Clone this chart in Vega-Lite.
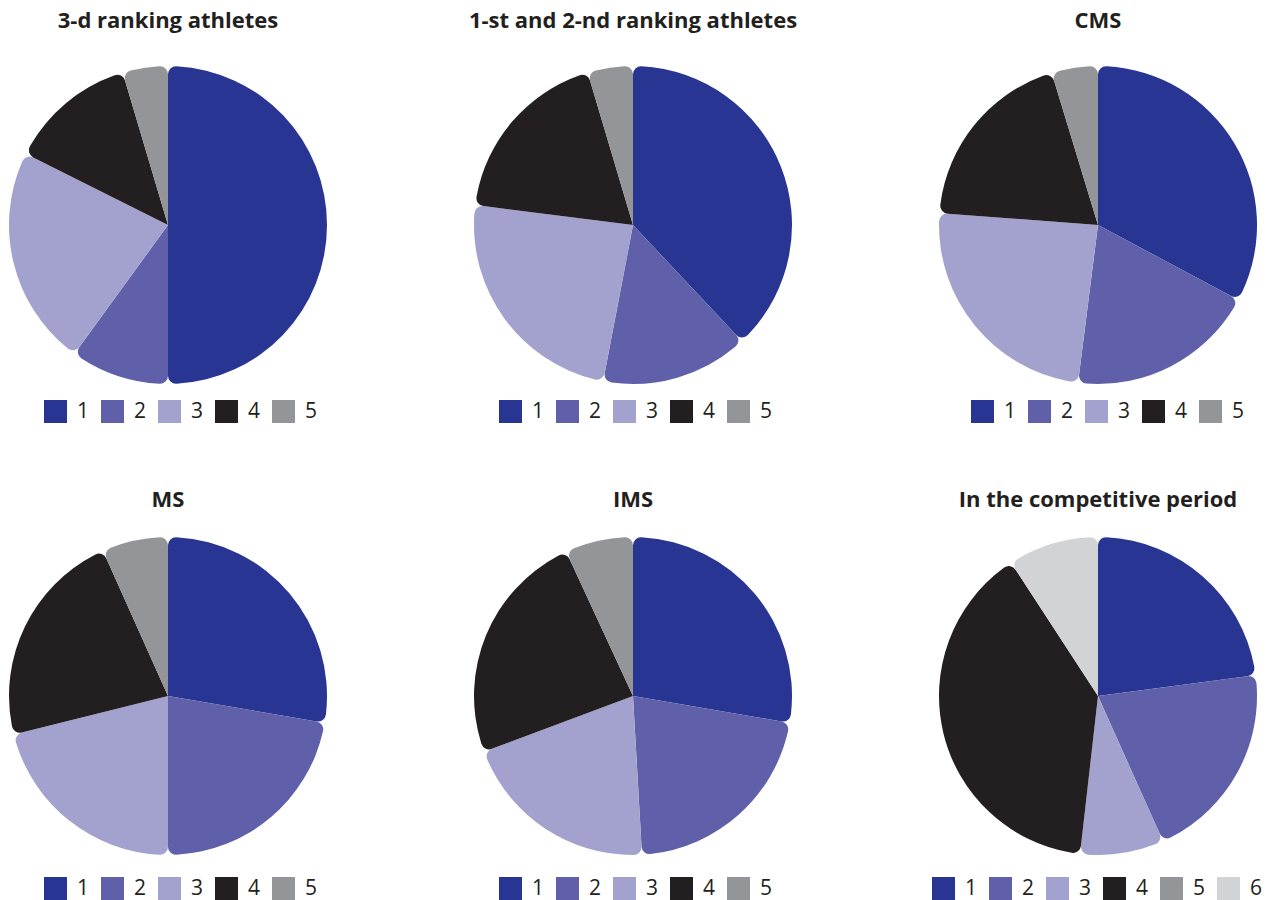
{
  "$schema": "https://vega.github.io/schema/vega-lite/v6.json",
  "padding": {"left": 9, "top": 10, "right": 5, "bottom": 0},
  "background": "white",
  "config": {
    "view": {"stroke": null},
    "font": "Open Sans",
    "title": {"font": "Open Sans", "fontSize": 22, "fontWeight": "bold", "color": "#231f20", "offset": 33, "anchor": "middle"},
    "legend": {
      "orient": "none",
      "direction": "horizontal",
      "title": null,
      "padding": 0,
      "symbolType": "square",
      "symbolSize": 529,
      "symbolStrokeWidth": 0,
      "symbolOpacity": 1,
      "labelFont": "Open Sans",
      "labelFontSize": 21,
      "labelColor": "#231f20",
      "labelOffset": 10,
      "columnPadding": 11
    }
  },
  "datasets": {
    "pies": [
      {"panel": "p1", "cat": "1", "value": 50},
      {"panel": "p1", "cat": "2", "value": 10},
      {"panel": "p1", "cat": "3", "value": 22.4},
      {"panel": "p1", "cat": "4", "value": 13},
      {"panel": "p1", "cat": "5", "value": 4.6},
      {"panel": "p2", "cat": "1", "value": 38},
      {"panel": "p2", "cat": "2", "value": 15},
      {"panel": "p2", "cat": "3", "value": 24},
      {"panel": "p2", "cat": "4", "value": 18.4},
      {"panel": "p2", "cat": "5", "value": 4.6},
      {"panel": "p3", "cat": "1", "value": 32.8},
      {"panel": "p3", "cat": "2", "value": 19.2},
      {"panel": "p3", "cat": "3", "value": 24.2},
      {"panel": "p3", "cat": "4", "value": 19.1},
      {"panel": "p3", "cat": "5", "value": 4.7},
      {"panel": "p4", "cat": "1", "value": 27.7},
      {"panel": "p4", "cat": "2", "value": 22.3},
      {"panel": "p4", "cat": "3", "value": 21.1},
      {"panel": "p4", "cat": "4", "value": 22.2},
      {"panel": "p4", "cat": "5", "value": 6.7},
      {"panel": "p5", "cat": "1", "value": 27.7},
      {"panel": "p5", "cat": "2", "value": 21.4},
      {"panel": "p5", "cat": "3", "value": 20.2},
      {"panel": "p5", "cat": "4", "value": 23.8},
      {"panel": "p5", "cat": "5", "value": 6.9},
      {"panel": "p6", "cat": "1", "value": 22.9},
      {"panel": "p6", "cat": "2", "value": 20.4},
      {"panel": "p6", "cat": "3", "value": 8.5},
      {"panel": "p6", "cat": "4", "value": 39},
      {"panel": "p6", "cat": "5", "value": 0},
      {"panel": "p6", "cat": "6", "value": 9.2}
    ]
  },
  "data": {"name": "pies"},
  "resolve": {"scale": {"color": "independent"}, "legend": {"color": "independent"}},
  "columns": 3,
  "bounds": "flush",
  "spacing": {"column": 147, "row": 153},
  "concat": [
    {
      "width": 318, "height": 318,
      "title": "3-d ranking athletes",
      "transform": [{"filter": "datum.panel == 'p1'"}],
      "mark": {"type": "arc", "cornerRadius": 8},
      "encoding": {
        "theta": {"field": "value", "type": "quantitative", "stack": true},
        "order": {"field": "cat", "type": "ordinal"},
        "color": {"field": "cat", "type": "nominal",
          "scale": {"domain": ["1", "2", "3", "4", "5"], "range": ["#283593", "#5f60a9", "#a3a1ce", "#231f20", "#939598"]},
          "legend": {"legendX": 35, "legendY": 334}}
      }
    },
    {
      "width": 318, "height": 318,
      "title": "1-st and 2-nd ranking athletes",
      "transform": [{"filter": "datum.panel == 'p2'"}],
      "mark": {"type": "arc", "cornerRadius": 8},
      "encoding": {
        "theta": {"field": "value", "type": "quantitative", "stack": true},
        "order": {"field": "cat", "type": "ordinal"},
        "color": {"field": "cat", "type": "nominal",
          "scale": {"domain": ["1", "2", "3", "4", "5"], "range": ["#283593", "#5f60a9", "#a3a1ce", "#231f20", "#939598"]},
          "legend": {"legendX": 25, "legendY": 334}}
      }
    },
    {
      "width": 318, "height": 318,
      "title": "CMS",
      "transform": [{"filter": "datum.panel == 'p3'"}],
      "mark": {"type": "arc", "cornerRadius": 8},
      "encoding": {
        "theta": {"field": "value", "type": "quantitative", "stack": true},
        "order": {"field": "cat", "type": "ordinal"},
        "color": {"field": "cat", "type": "nominal",
          "scale": {"domain": ["1", "2", "3", "4", "5"], "range": ["#283593", "#5f60a9", "#a3a1ce", "#231f20", "#939598"]},
          "legend": {"legendX": 32, "legendY": 334}}
      }
    },
    {
      "width": 318, "height": 318,
      "title": {"text": "MS", "offset": 25},
      "transform": [{"filter": "datum.panel == 'p4'"}],
      "mark": {"type": "arc", "cornerRadius": 8},
      "encoding": {
        "theta": {"field": "value", "type": "quantitative", "stack": true},
        "order": {"field": "cat", "type": "ordinal"},
        "color": {"field": "cat", "type": "nominal",
          "scale": {"domain": ["1", "2", "3", "4", "5"], "range": ["#283593", "#5f60a9", "#a3a1ce", "#231f20", "#939598"]},
          "legend": {"legendX": 35, "legendY": 340}}
      }
    },
    {
      "width": 318, "height": 318,
      "title": {"text": "IMS", "offset": 25},
      "transform": [{"filter": "datum.panel == 'p5'"}],
      "mark": {"type": "arc", "cornerRadius": 8},
      "encoding": {
        "theta": {"field": "value", "type": "quantitative", "stack": true},
        "order": {"field": "cat", "type": "ordinal"},
        "color": {"field": "cat", "type": "nominal",
          "scale": {"domain": ["1", "2", "3", "4", "5"], "range": ["#283593", "#5f60a9", "#a3a1ce", "#231f20", "#939598"]},
          "legend": {"legendX": 25, "legendY": 340}}
      }
    },
    {
      "width": 318, "height": 318,
      "title": {"text": "In the competitive period", "offset": 25},
      "transform": [{"filter": "datum.panel == 'p6'"}],
      "mark": {"type": "arc", "cornerRadius": 8},
      "encoding": {
        "theta": {"field": "value", "type": "quantitative", "stack": true},
        "order": {"field": "cat", "type": "ordinal"},
        "color": {"field": "cat", "type": "nominal",
          "scale": {"domain": ["1", "2", "3", "4", "5", "6"], "range": ["#283593", "#5f60a9", "#a3a1ce", "#231f20", "#939598", "#d1d3d4"]},
          "legend": {"legendX": -7, "legendY": 340}}
      }
    }
  ]
}
